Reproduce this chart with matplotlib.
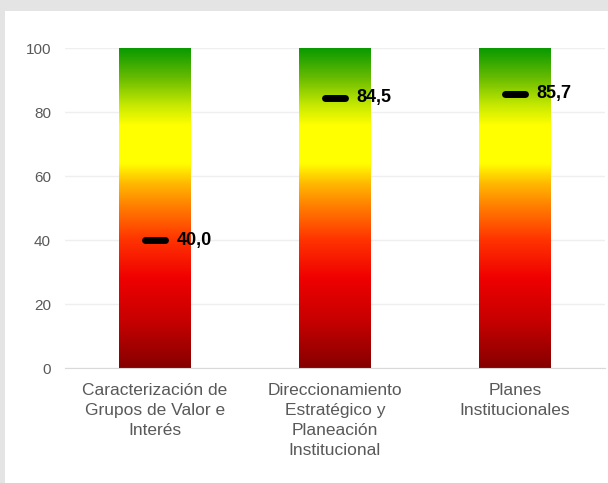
import matplotlib

matplotlib.use("Agg")
import matplotlib.pyplot as plt
import numpy as np
from matplotlib.colors import LinearSegmentedColormap
from matplotlib.patches import Rectangle

plt.rcParams["font.family"] = ["Liberation Sans", "DejaVu Sans"]

categories = [
    "Caracterización de\nGrupos de Valor e\nInterés",
    "Direccionamiento\nEstratégico y\nPlaneación\nInstitucional",
    "Planes\nInstitucionales",
]
scale_max = [100, 100, 100]
scores = [40.0, 84.5, 85.7]
score_labels = ["40,0", "84,5", "85,7"]
y_ticks = [0, 20, 40, 60, 80, 100]

# red -> orange -> yellow -> green, bottom to top
gradient = LinearSegmentedColormap.from_list(
    "semaforo",
    [
        (0.00, "#860000"),
        (0.14, "#c40000"),
        (0.28, "#f00000"),
        (0.40, "#ff3300"),
        (0.50, "#ff7a00"),
        (0.58, "#ffbb00"),
        (0.64, "#ffff00"),
        (0.76, "#ffff00"),
        (0.82, "#c8ea00"),
        (0.91, "#66bb00"),
        (1.00, "#0a9a00"),
    ],
)

fig = plt.figure(figsize=(6.08, 4.83), dpi=100, facecolor="#e4e4e4")
fig.patches.append(
    Rectangle((5 / 608, 0), 1, 1 - 11 / 483, transform=fig.transFigure,
              facecolor="white", edgecolor="none", zorder=-10)
)
ax = fig.add_axes([65 / 608, 115 / 483, 540 / 608, 320 / 483])
ax.set_facecolor("white")

x = np.arange(len(categories))
bar_width = 0.4
ramp = np.linspace(0, 1, 256).reshape(-1, 1)
for xi, top in zip(x, scale_max):
    ax.imshow(ramp, cmap=gradient, origin="lower", aspect="auto",
              extent=(xi - bar_width / 2, xi + bar_width / 2, 0, top), zorder=2)

ax.hlines(scores, x - 0.055, x + 0.055, colors="black", linewidth=5, zorder=3,
          capstyle="round")
for xi, val, lab in zip(x, scores, score_labels):
    ax.text(xi + 0.12, val, lab, fontsize=13, fontweight="bold",
            color="black", va="center", ha="left", zorder=4)

ax.set_xlim(-0.5, len(categories) - 0.5)
ax.set_ylim(0, 100)
ax.set_yticks(y_ticks)
ax.set_xticks(x)
ax.set_xticklabels(categories, fontsize=12.5, color="#595959", linespacing=1.42)
ax.tick_params(axis="y", labelsize=11, labelcolor="#595959", length=0, pad=10)
ax.tick_params(axis="x", length=0, pad=11)
ax.grid(axis="y", color="#efefef", linewidth=1, zorder=0)
ax.set_axisbelow(True)
for side in ["left", "right", "top"]:
    ax.spines[side].set_visible(False)
ax.spines["bottom"].set_color("#d9d9d9")
ax.spines["bottom"].set_zorder(5)

fig.savefig("out.png", dpi=100, facecolor=fig.get_facecolor())
